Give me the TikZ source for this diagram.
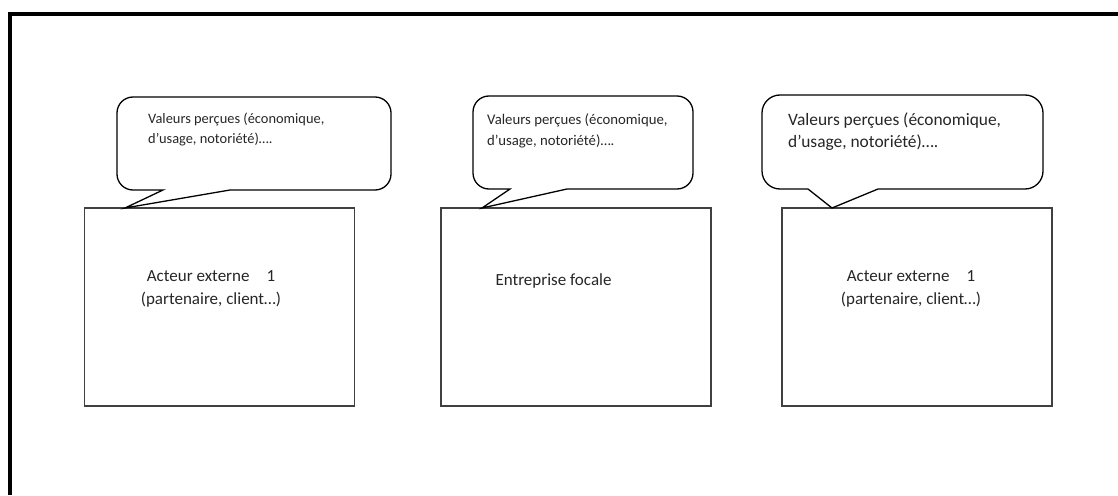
\documentclass[tikz,border=0pt]{standalone}
\usepackage{fontspec}
\setmainfont{Carlito}
\usetikzlibrary{positioning}
\tikzset{
  cadre/.style={draw=black,line width=4pt},
  acteur/.style={rectangle,draw=black!75,line width=1.4pt,
    minimum width=270pt,minimum height=198pt,inner sep=0pt},
  bulle/.style={draw=black,line width=1.3pt,rounded corners=16pt},
  texteboite/.style={font=\fontsize{17}{23}\selectfont,align=center,inner sep=0pt,text=black!85},
  textebulle/.style={font=\fontsize{14.4}{19.5}\selectfont,align=left,inner sep=0pt,
    anchor=base west,text=black!85}
}

\begin{document}
\begin{tikzpicture}[x=1pt,y=-1pt]
\useasboundingbox (0,0) rectangle (1118,495);
\draw[cadre] (10,495) -- (10,14) -- (1118,14);
% boites
\node[acteur] (acteur1) at (219.5,307) {};
\node[acteur] (focale) at (576,307) {};
\node[acteur] (acteur2) at (917,307) {};
\node[texteboite] (txtacteur1) at (211,288.5) {Acteur externe\quad 1\\(partenaire, client…)};
\node[texteboite] (txtfocale) at (553.5,281) {Entreprise focale};
\node[texteboite] (txtacteur2) at (911,288.5) {Acteur externe\quad 1\\(partenaire, client…)};
% bulles
\draw[bulle] (254,97) -- (117,97) -- (117,190) [sharp corners] -- (163,190) -- (125,208)
  -- (230,190) [rounded corners=16pt] -- (391,190) -- (391,97) -- cycle;
\draw[bulle] (583,96) -- (473,96) -- (473,189) [sharp corners] -- (510,189) -- (482,208)
  -- (567,189) [rounded corners=16pt] -- (693,189) -- (693,96) -- cycle;
\draw[bulle,rounded corners=18pt] (902,95) -- (762,95) -- (762,189) [sharp corners] -- (808,189) -- (832,208)
  -- (878,189) [rounded corners=18pt] -- (1043,189) -- (1043,95) -- cycle;
\node[textebulle] (valeurs1) at (148,143) {Valeurs perçues (économique,\\d’usage, notoriété)….};
\node[textebulle,font=\fontsize{14.75}{20.5}\selectfont] (valeurs2) at (487,145) {Valeurs perçues (économique,\\d’usage, notoriété)….};
\node[textebulle,font=\fontsize{17.4}{22}\selectfont] (valeurs3) at (788,147) {Valeurs perçues (économique,\\d’usage, notoriété)….};
\end{tikzpicture}
\end{document}
